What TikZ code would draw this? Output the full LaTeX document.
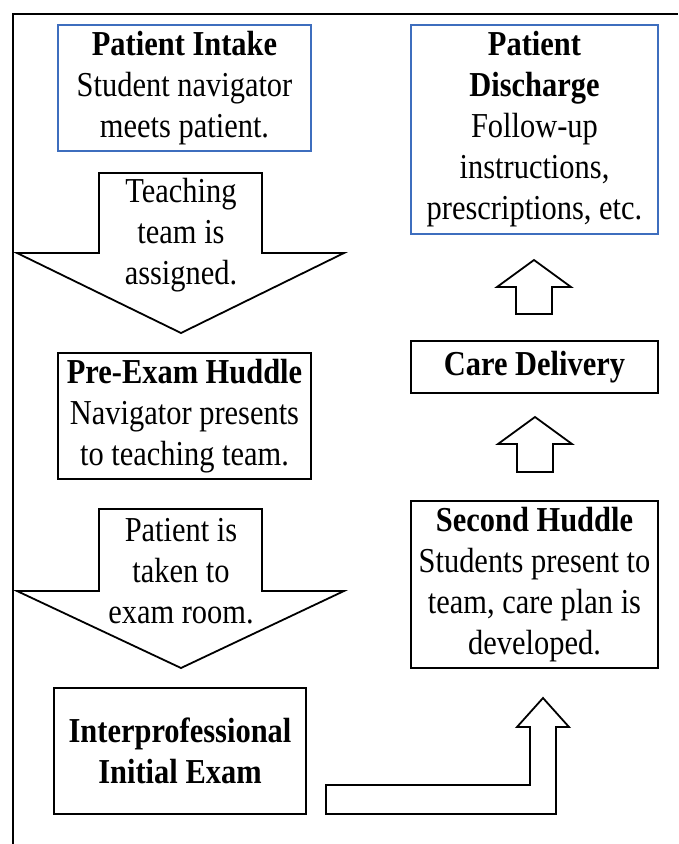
\documentclass[tikz,border=0pt]{standalone}
\usepackage{fontspec}
\setmainfont{Liberation Serif}[FakeStretch=0.87]
\definecolor{boxblue}{RGB}{62,110,190}
\begin{document}
\begin{tikzpicture}[x=1pt,y=-1pt,
  txt/.style={font=\fontsize{35}{41}\selectfont, align=center, inner sep=0pt},
  box/.style={txt, draw=black, line width=1.8pt, rectangle},
  bluebox/.style={box, draw=boxblue},
  blockarrow/.style={draw=black, line width=1.8pt, line join=miter, fill=white}]
\useasboundingbox (0,0) rectangle (678,844);
\fill[white] (0,0) rectangle (678,844);
% frame
\draw[line width=1.8pt] (13,844) -- (13,14) -- (678,14);

% boxes
\node[bluebox, minimum width=253pt, minimum height=126pt] (intake) at (184.5,88)
  {\textbf{Patient Intake}\\Student navigator\\meets patient.};
\node[bluebox, minimum width=247pt, minimum height=209pt] (discharge) at (534.5,129.5)
  {\textbf{Patient}\\\textbf{Discharge}\\Follow-up\\instructions,\\prescriptions, etc.};
\node[box, minimum width=253pt, minimum height=126pt] (preexam) at (184.5,416)
  {\textbf{Pre-Exam Huddle}\\Navigator presents\\to teaching team.};
\node[box, minimum width=247pt, minimum height=52pt] (care) at (534.5,367)
  {\textbf{Care Delivery}};
\node[box, minimum width=247pt, minimum height=167pt] (second) at (534.5,584.5)
  {\textbf{Second Huddle}\\Students present to\\team, care plan is\\developed.};
\node[box, minimum width=252pt, minimum height=126pt] (exam) at (180,751)
  {\textbf{Interprofessional}\\\textbf{Initial Exam}};

% down arrow 1
\draw[blockarrow] (99,173) -- (262,173) -- (262,253) -- (344,253) -- (181,333)
  -- (17,253) -- (99,253) -- cycle;
\node[txt] (assign) at (181,235) {Teaching\\team is\\assigned.};

% down arrow 2
\draw[blockarrow] (99,509) -- (262,509) -- (262,591) -- (344,591) -- (181,668)
  -- (17,591) -- (99,591) -- cycle;
\node[txt] (taken) at (181,571) {Patient is\\taken to\\exam room.};

% up arrow 1 (care -> discharge)
\draw[blockarrow] (516,314) -- (516,287) -- (497,287) -- (534,260) -- (571,287)
  -- (552,287) -- (552,314) -- cycle;

% up arrow 2 (second -> care)
\draw[blockarrow] (517,472) -- (517,444) -- (498,444) -- (535,417) -- (572,444)
  -- (553,444) -- (553,472) -- cycle;

% bent arrow (exam -> second)
\draw[blockarrow] (326,785) -- (530,785) -- (530,727) -- (517,727) -- (543,698)
  -- (569,727) -- (556,727) -- (556,814) -- (326,814) -- cycle;
\end{tikzpicture}
\end{document}
